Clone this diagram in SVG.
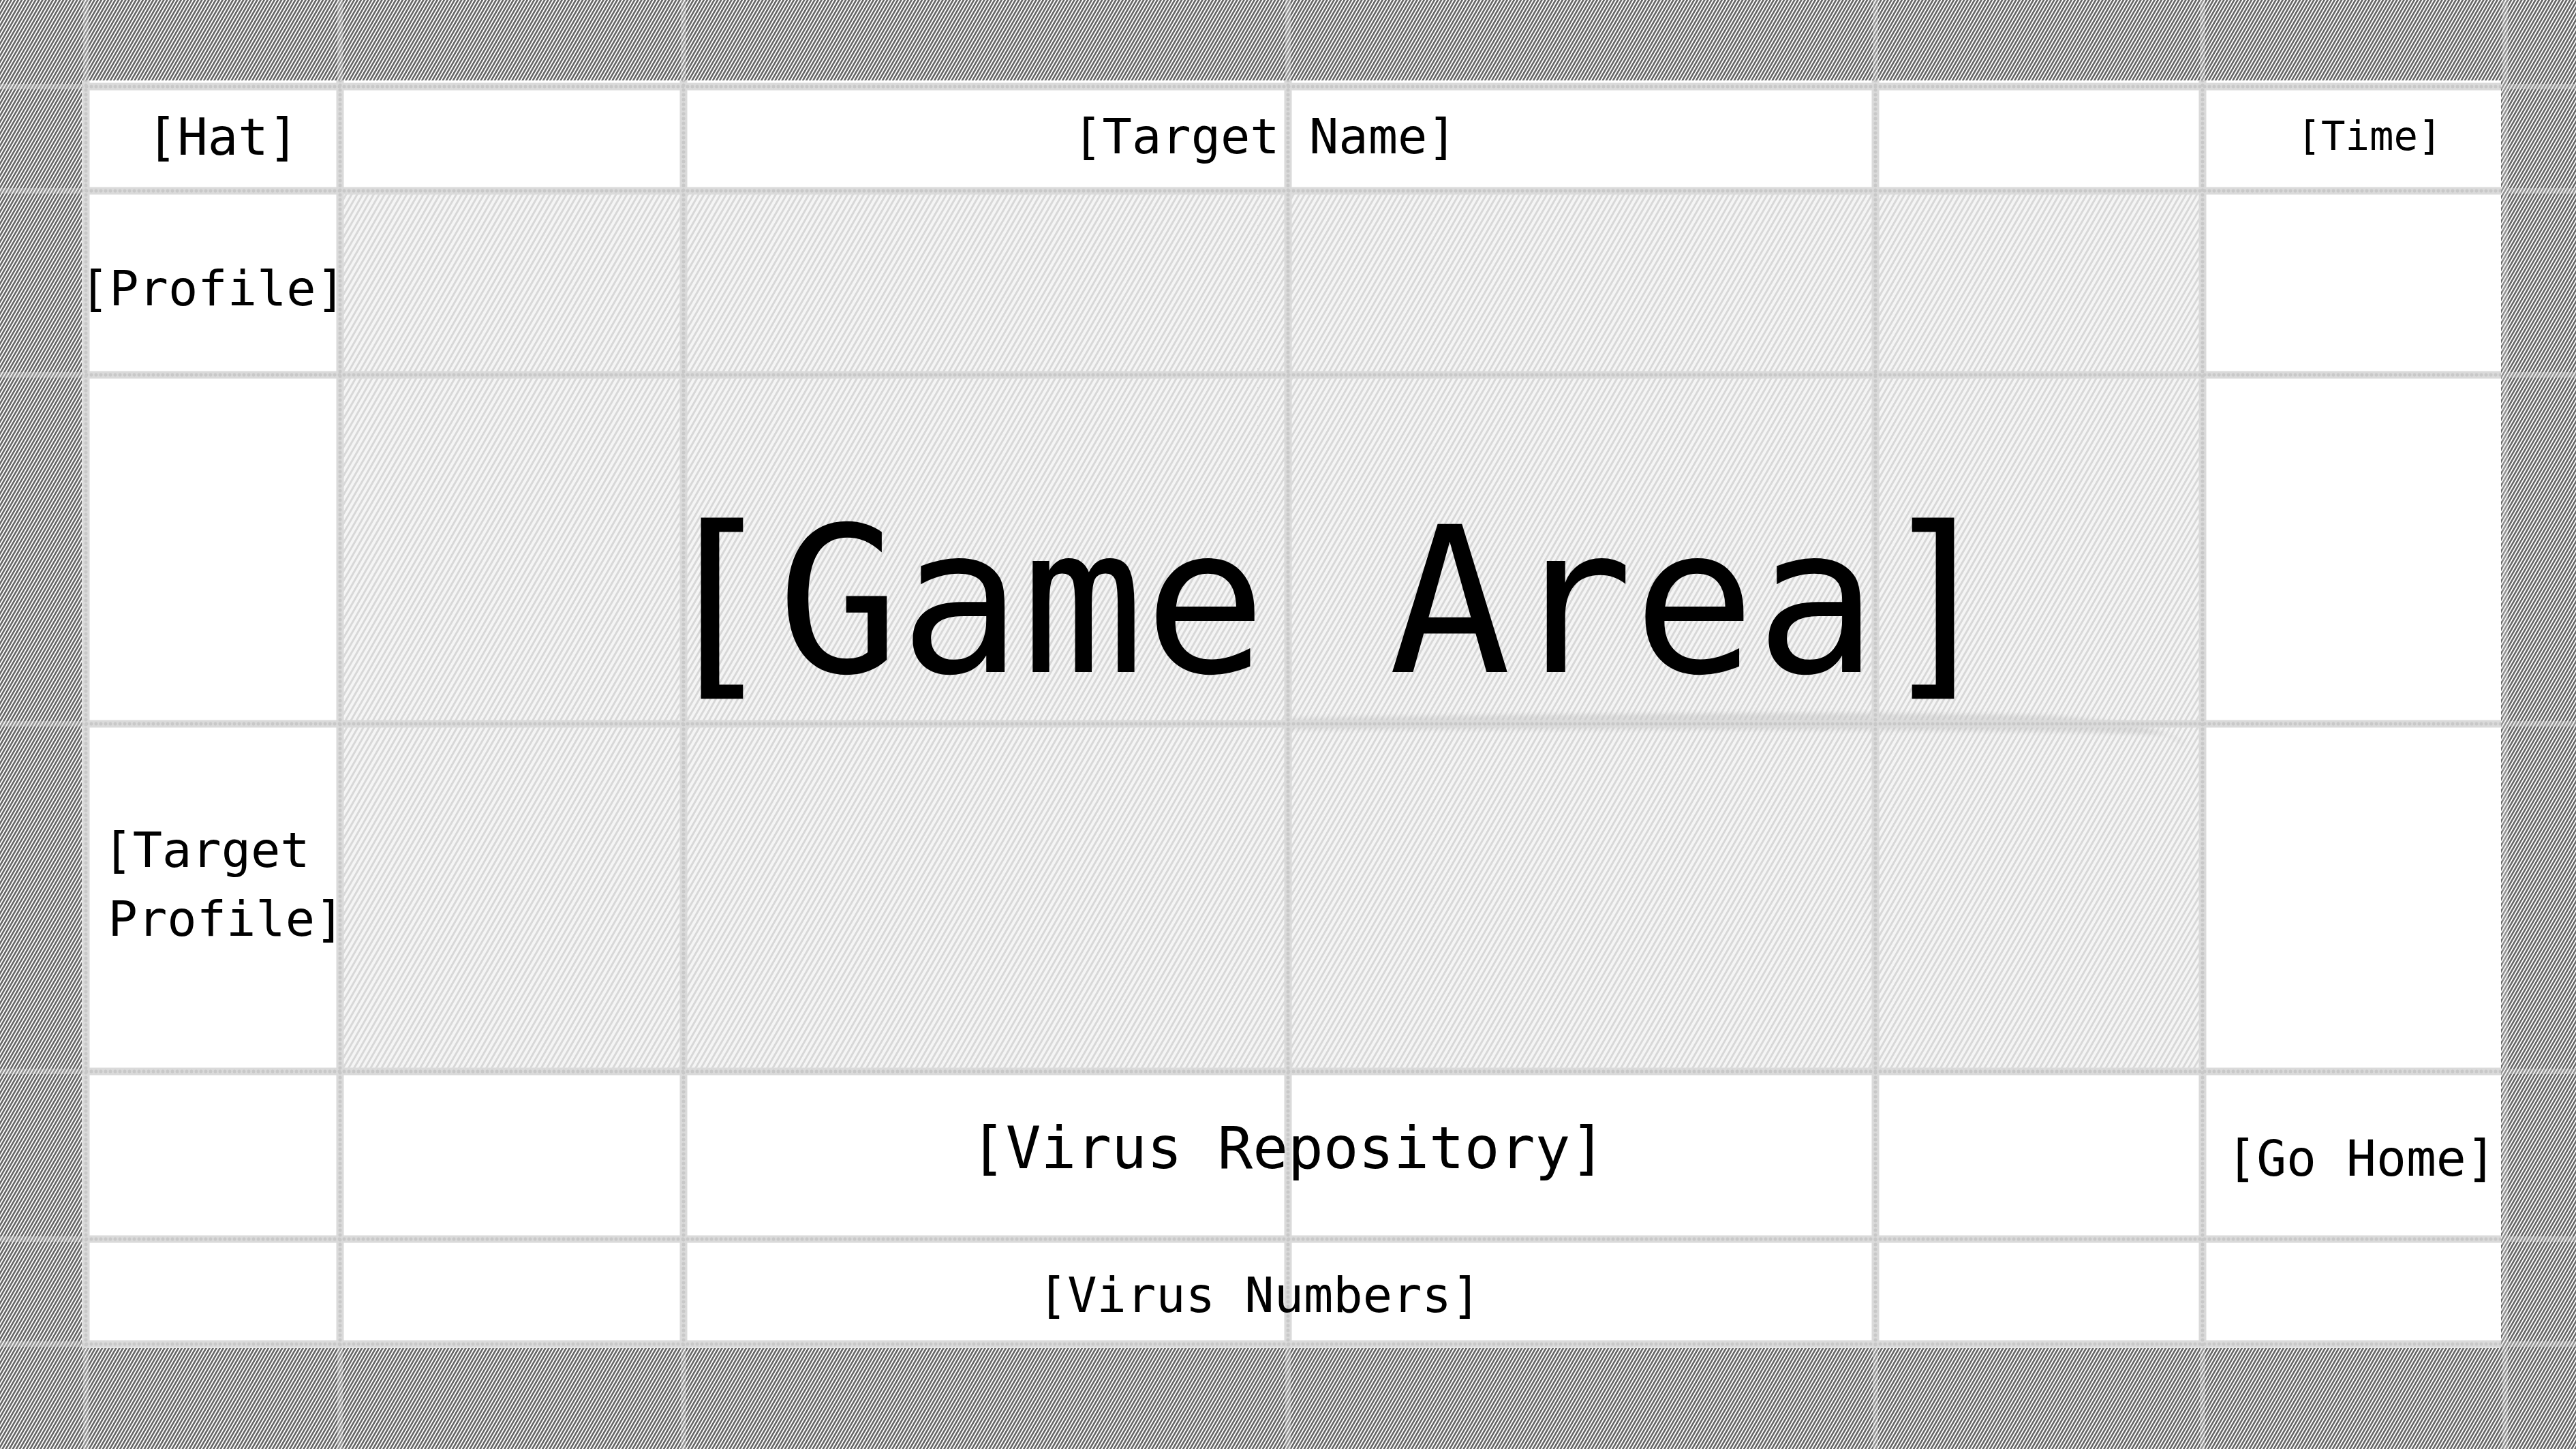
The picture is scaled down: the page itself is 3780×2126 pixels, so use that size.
<svg xmlns="http://www.w3.org/2000/svg" width="3780" height="2126" viewBox="0 0 3780 2126">
  <style>
    .lbl { font-family: "DejaVu Sans Mono", "Liberation Mono", monospace; fill: #000; text-anchor: middle; }
    .rule { stroke: #dadada; stroke-width: 11; fill: none; }
    .dots { stroke: #c8c8c8; stroke-width: 5; stroke-dasharray: 0 7; stroke-linecap: round; fill: none; }
    .ghost { stroke: #e8e8e8; stroke-width: 8; opacity: 0.35; fill: none; }
  </style>
  <defs>
    <!-- dense dark hatching for the outer margin -->
    <pattern id="hatchDark" width="4.4" height="12" patternUnits="userSpaceOnUse" patternTransform="rotate(30)">
      <rect width="4.4" height="12" fill="#ffffff"/>
      <rect width="2.6" height="12" fill="#666666"/>
    </pattern>
    <!-- pale hatching for the play field -->
    <pattern id="hatchLight" width="7" height="12" patternUnits="userSpaceOnUse" patternTransform="rotate(30)">
      <rect width="7" height="12" fill="#f5f5f5"/>
      <rect width="3" height="12" fill="#d8d8d8"/>
    </pattern>
    <clipPath id="panelClip">
      <rect x="120" y="118" width="3550" height="1860"/>
    </clipPath>
    <filter id="soft" x="-5%" y="-50%" width="110%" height="200%">
      <feGaussianBlur stdDeviation="3"/>
    </filter>
  </defs>

  <!-- margin -->
  <rect width="3780" height="2126" fill="url(#hatchDark)"/>

  <!-- guide lines continuing across the margin -->
  <g id="guides-outer" class="ghost">
    <line x1="126" y1="0" x2="126" y2="2126"/>
    <line x1="499" y1="0" x2="499" y2="2126"/>
    <line x1="1003" y1="0" x2="1003" y2="2126"/>
    <line x1="1890" y1="0" x2="1890" y2="2126"/>
    <line x1="2752" y1="0" x2="2752" y2="2126"/>
    <line x1="3232" y1="0" x2="3232" y2="2126"/>
    <line x1="3676" y1="0" x2="3676" y2="2126"/>
    <line x1="0" y1="127" x2="3780" y2="127"/>
    <line x1="0" y1="280" x2="3780" y2="280"/>
    <line x1="0" y1="550" x2="3780" y2="550"/>
    <line x1="0" y1="1062" x2="3780" y2="1062"/>
    <line x1="0" y1="1572" x2="3780" y2="1572"/>
    <line x1="0" y1="1818" x2="3780" y2="1818"/>
    <line x1="0" y1="1972" x2="3780" y2="1972"/>
  </g>

  <!-- screen panel -->
  <rect id="panel" x="120" y="118" width="3550" height="1860" fill="#ffffff"/>
  <rect id="play-field" x="499" y="280" width="2733" height="1292" fill="url(#hatchLight)"/>
  <!-- smudge along the middle rule of the play field -->
  <path d="M1890,1054 C2300,1046 2800,1044 3000,1050 C3120,1056 3190,1072 3208,1094 L3180,1078 C3000,1070 2500,1070 1890,1070 Z" fill="#b5b5b5" opacity="0.35" filter="url(#soft)"/>

  <!-- layout grid -->
  <g id="grid" clip-path="url(#panelClip)">
    <g class="rule">
      <line x1="126" y1="118" x2="126" y2="1978"/>
      <line x1="499" y1="118" x2="499" y2="1978"/>
      <line x1="1003" y1="118" x2="1003" y2="1978"/>
      <line x1="1890" y1="118" x2="1890" y2="1978"/>
      <line x1="2752" y1="118" x2="2752" y2="1978"/>
      <line x1="3232" y1="118" x2="3232" y2="1978"/>
      <line x1="120" y1="127" x2="3670" y2="127"/>
      <line x1="120" y1="280" x2="3670" y2="280"/>
      <line x1="120" y1="550" x2="3670" y2="550"/>
      <line x1="120" y1="1062" x2="3670" y2="1062"/>
      <line x1="120" y1="1572" x2="3670" y2="1572"/>
      <line x1="120" y1="1818" x2="3670" y2="1818"/>
      <line x1="120" y1="1972" x2="3670" y2="1972"/>
    </g>
    <g class="dots">
      <line x1="126" y1="118" x2="126" y2="1978"/>
      <line x1="499" y1="118" x2="499" y2="1978"/>
      <line x1="1003" y1="118" x2="1003" y2="1978"/>
      <line x1="1890" y1="118" x2="1890" y2="1978"/>
      <line x1="2752" y1="118" x2="2752" y2="1978"/>
      <line x1="3232" y1="118" x2="3232" y2="1978"/>
      <line x1="120" y1="127" x2="3670" y2="127"/>
      <line x1="120" y1="280" x2="3670" y2="280"/>
      <line x1="120" y1="550" x2="3670" y2="550"/>
      <line x1="120" y1="1062" x2="3670" y2="1062"/>
      <line x1="120" y1="1572" x2="3670" y2="1572"/>
      <line x1="120" y1="1818" x2="3670" y2="1818"/>
      <line x1="120" y1="1972" x2="3670" y2="1972"/>
    </g>
  </g>

  <!-- labels -->
  <g id="hat"><text class="lbl" x="327" y="227" font-size="74">[Hat]</text></g>
  <g id="target-name"><text class="lbl" x="1856" y="225" font-size="72">[Target Name]</text></g>
  <g id="time"><text class="lbl" x="3477" y="220" font-size="59">[Time]</text></g>
  <g id="profile"><text class="lbl" x="312" y="448" font-size="72">[Profile]</text></g>
  <g id="game-area"><text class="lbl" x="1948" y="986" font-size="298">[Game Area]</text></g>
  <g id="target-profile">
    <text class="lbl" x="303" y="1272" font-size="72">[Target</text>
    <text class="lbl" x="332" y="1373" font-size="72">Profile]</text>
  </g>
  <g id="virus-repository"><text class="lbl" x="1890" y="1714" font-size="86">[Virus Repository]</text></g>
  <g id="go-home"><text class="lbl" x="3465" y="1725" font-size="73">[Go Home]</text></g>
  <g id="virus-numbers"><text class="lbl" x="1848" y="1925" font-size="72">[Virus Numbers]</text></g>
</svg>
